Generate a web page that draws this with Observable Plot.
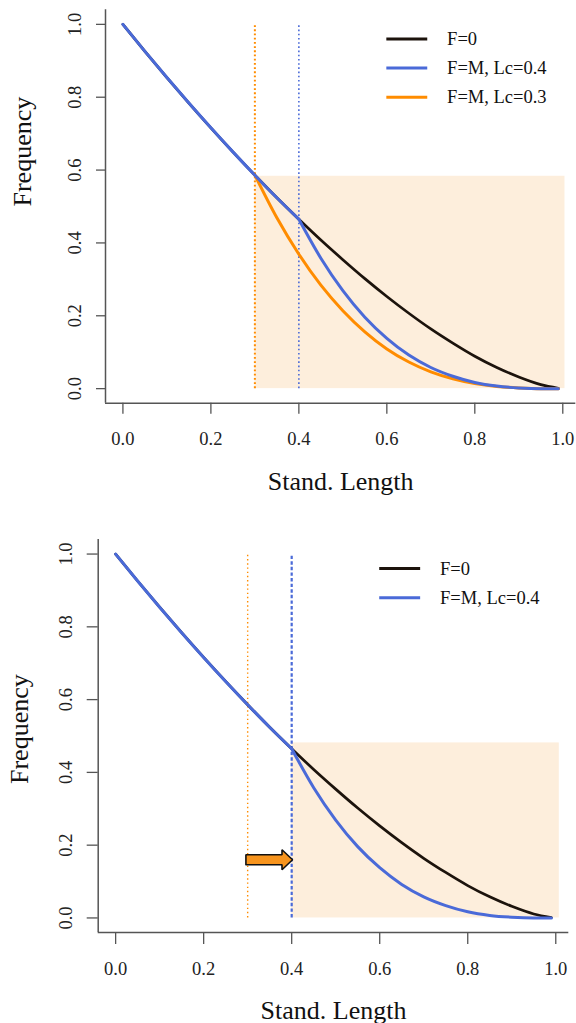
<!DOCTYPE html>
<html>
<head>
<meta charset="utf-8">
<script src="https://cdn.jsdelivr.net/npm/d3@7"></script>
<script src="https://cdn.jsdelivr.net/npm/@observablehq/plot@0.6"></script>
<style>
  html, body { margin: 0; padding: 0; background: #ffffff; }
  #charts svg { display: block; }
  #charts svg, #charts svg text { font-family: 'Liberation Serif', 'Times New Roman', Times, serif !important; }
</style>
</head>
<body>
<div id="charts"></div>
<script>
// ---- data ----
const lengths = [0, 0.05, 0.1, 0.15, 0.2, 0.25, 0.3, 0.35, 0.4, 0.45, 0.5, 0.55, 0.6, 0.65, 0.7, 0.75, 0.8, 0.85, 0.9, 0.95, 0.99];
const freqF0 = [1, 0.926, 0.854, 0.784, 0.716, 0.650, 0.586, 0.524, 0.465, 0.408, 0.354, 0.302, 0.253, 0.207, 0.164, 0.125, 0.089, 0.058, 0.032, 0.011, 0.001];
const freqLc04 = [1, 0.926, 0.854, 0.784, 0.716, 0.650, 0.586, 0.524, 0.465, 0.358, 0.269, 0.196, 0.138, 0.092, 0.058, 0.034, 0.017, 0.007, 0.002, 0.000, 0.000];
const freqLc03 = [null, null, null, null, null, null, 0.586, 0.469, 0.369, 0.284, 0.214, 0.156, 0.109, 0.073, 0.046, 0.027, 0.014, 0.006, 0.002, 0.000, 0.000];

const seriesNames = ["F=0", "F=M, Lc=0.4", "F=M, Lc=0.3"];
const lcValues = [0.4, 0.3];
const xTicks = [0, 0.2, 0.4, 0.6, 0.8, 1.0];
const yTicks = [0, 0.2, 0.4, 0.6, 0.8, 1.0];

// shaded "catch" regions: [xStart, xEnd, top]
const shadeTop = [0.3, 1.005, 0.583];
const shadeBottom = [0.4, 1.008, 0.481];
// arrow in lower panel: from, to, height
const arrowSpec = [0.296, 0.402, 0.16];

const xTitle = "Stand. Length";
const yTitle = "Frequency";

// ---- styling ----
const C_BLACK = "#1c130c";
const C_BLUE = "#4a6ad8";
const C_ORANGE = "#ff8c00";
const C_SHADE = "#fdeedc";
const C_AXIS = "#555555";
const FONT = "'Liberation Serif', 'Times New Roman', Times, serif";

const rows = lengths.map((x, i) => ({x, f0: freqF0[i], m04: freqLc04[i], m03: freqLc03[i]}));
const xDomain = [-0.0396, 1.0296];
const yDomain = [-0.04, 1.04];

function panel(cfg) {
  const legendRows = cfg.legend.map((d, i) => ({...d, y: 0.96 - i * 0.08}));
  const marks = [
    Plot.rect([cfg.shade], {x1: d => d[0], x2: d => d[1], y1: () => 0, y2: d => d[2], fill: C_SHADE}),
    Plot.ruleX([lcValues[1]], {y1: () => 0, y2: () => 1, stroke: C_ORANGE, strokeWidth: cfg.oW, strokeDasharray: cfg.oDash}),
    Plot.ruleX([lcValues[0]], {y1: () => 0, y2: () => 1, stroke: C_BLUE, strokeWidth: cfg.bW, strokeDasharray: cfg.bDash}),
    // axes (R style "l" box)
    Plot.ruleX([xDomain[0]], {stroke: C_AXIS, strokeWidth: 1.5}),
    Plot.ruleY([yDomain[0]], {stroke: C_AXIS, strokeWidth: 1.5}),
    Plot.axisX({ticks: xTicks, tickSize: cfg.xTick, tickPadding: cfg.xPad, tickFormat: d => d.toFixed(1),
      stroke: C_AXIS, strokeWidth: 1.3, fill: "#222", label: null, fontSize: 18.5, fontFamily: FONT}),
    Plot.axisY({ticks: yTicks, tickSize: cfg.yTick, stroke: C_AXIS, strokeWidth: 1.3, fill: "none", label: null}),
    Plot.text(yTicks, {x: () => xDomain[0], y: d => d, text: d => d.toFixed(1), rotate: -90, dx: cfg.yLabDx,
      lineAnchor: "bottom", textAnchor: "middle", fill: "#222", fontSize: 18.5, fontFamily: FONT}),
    Plot.text([xTitle], {text: d => d, frameAnchor: "bottom", dy: cfg.xTitleDy, lineAnchor: "bottom", fontSize: 26, fill: "#111", fontFamily: FONT}),
    Plot.text([yTitle], {text: d => d, frameAnchor: "left", dx: cfg.yTitleDx, dy: cfg.yTitleDy, rotate: -90, lineAnchor: "bottom", fontSize: 26, fill: "#111", fontFamily: FONT}),
    // curves
    Plot.line(rows, {x: "x", y: "f0", stroke: C_BLACK, strokeWidth: 2.7, curve: "monotone-x"}),
  ];
  if (cfg.showOrange) {
    marks.push(Plot.line(rows.filter(d => d.x >= lcValues[1]), {x: "x", y: "m03", stroke: C_ORANGE, strokeWidth: 3, curve: "monotone-x"}));
  }
  marks.push(
    Plot.line(rows.filter(d => d.x <= lcValues[0]), {x: "x", y: "m04", stroke: C_BLUE, strokeWidth: 3, curve: "monotone-x"}),
    Plot.line(rows.filter(d => d.x >= lcValues[0]), {x: "x", y: "m04", stroke: C_BLUE, strokeWidth: 3, curve: "monotone-x"})
  );
  if (cfg.arrow) {
    const [a0, a1, ay] = cfg.arrow;
    const bh = 0.0137, hh = 0.0275, hb = a1 - 0.024;
    const pts = [[a0, ay - bh], [hb, ay - bh], [hb, ay - hh], [a1, ay], [hb, ay + hh], [hb, ay + bh], [a0, ay + bh], [a0, ay - bh]];
    marks.push(Plot.line(pts, {x: d => d[0], y: d => d[1], fill: "#f7941d", stroke: "#111", strokeWidth: 1.6, curve: "linear", strokeLinejoin: "miter"}));
  }
  // legend
  marks.push(
    Plot.ruleY(legendRows, {y: "y", x1: () => 0.6, x2: () => 0.693, stroke: "color", strokeWidth: 3}),
    Plot.text(legendRows, {y: "y", x: () => 0.737, text: "label", textAnchor: "start", lineAnchor: "middle", fontSize: 18.5, fill: "#111", fontFamily: FONT})
  );
  return Plot.plot({
    width: 576,
    height: cfg.height,
    marginTop: cfg.mt, marginBottom: cfg.mb, marginLeft: cfg.ml, marginRight: cfg.mr,
    x: {domain: xDomain},
    y: {domain: yDomain},
    color: {type: "identity"},
    style: {fontFamily: FONT, fontSize: "18.5px", color: "#222", background: "#fff", overflow: "visible"},
    marks
  });
}

const charts = document.getElementById("charts");
charts.appendChild(panel({
  height: 505, mt: 9.3, mb: 102.3, ml: 105, mr: 0.7,
  shade: shadeTop, showOrange: true,
  oW: 2, oDash: "1.8,2.4", bW: 1.6, bDash: "1.6,2.6",
  xTick: 11, xPad: 18, yTick: 9, yLabDx: -25,
  xTitleDy: 87, yTitleDx: -75, yTitleDy: 0,
  legend: [
    {label: seriesNames[0], color: C_BLACK},
    {label: seriesNames[1], color: C_BLUE},
    {label: seriesNames[2], color: C_ORANGE}
  ]
}));
charts.appendChild(panel({
  height: 518, mt: 34, mb: 91, ml: 97.7, mr: 7.7,
  shade: shadeBottom, showOrange: false, arrow: arrowSpec,
  oW: 1.4, oDash: "1.4,2.8", bW: 2.2, bDash: "3.4,2.2",
  xTick: 12, xPad: 17, yTick: 11, yLabDx: -26.7,
  xTitleDy: 86, yTitleDx: -70, yTitleDy: 48,
  legend: [
    {label: seriesNames[0], color: C_BLACK},
    {label: seriesNames[1], color: C_BLUE}
  ]
}));
</script>
</body>
</html>
